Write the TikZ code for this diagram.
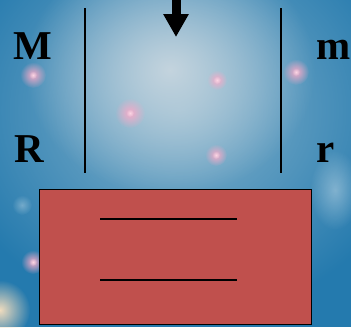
\documentclass[tikz,border=0pt]{standalone}
\usepackage{fontspec}
\setmainfont{Liberation Serif}
\usetikzlibrary{arrows.meta,fadings}

\definecolor{bgblue}{RGB}{36,122,174}
\definecolor{bgmid}{RGB}{135,180,205}
\definecolor{bglight}{RGB}{196,212,222}
\definecolor{spotpink}{RGB}{245,170,200}
\definecolor{warmglow}{RGB}{240,220,190}
\definecolor{boxred}{RGB}{192,80,77}

\tikzfading[name=softglow, inner color=transparent!0, outer color=transparent!100]

\tikzset{
  letter/.style={inner sep=0pt, anchor=base west, font=\fontsize{41}{41}\selectfont\bfseries},
  wall/.style={line width=2pt},
  spot/.style={fill=spotpink, path fading=softglow},
  fall/.style={line width=9pt, -{Triangle[width=24pt,length=23pt]}},
}

\begin{document}
\begin{tikzpicture}[x=1pt,y=-1pt]
\useasboundingbox (0,0) rectangle (351,327);
% background
\fill[bgblue] (0,0) rectangle (351,327);
\fill[bgmid, path fading=softglow] (180,110) ellipse (240 and 210);
\fill[bglight, path fading=softglow] (170,70) ellipse (145 and 125);
\fill[warmglow, path fading=softglow] (0,310) circle (30);
\fill[white, opacity=.35, path fading=softglow] (335,190) ellipse (25 and 40);
\fill[white, opacity=.3, path fading=softglow] (22,205) circle (10);
% bokeh spots
\foreach \px/\py/\pr in {33/75/13, 130/113/15, 217/80/10, 216/155/11, 296/72/13, 33/262/12}
  \fill[spot] (\px,\py) circle (\pr);
\foreach \px/\py in {33/75, 130/113, 217/80, 216/155, 296/72, 33/262}
  \fill[white, opacity=.5, path fading=softglow] (\px,\py) circle (4);

% labels
\node[letter] (bigM) at (13,59) {M};
\node[letter] (bigR) at (14,162) {R};
\node[letter] (smallm) at (316,59) {m};
\node[letter] (smallr) at (316,162) {r};

% walls
\draw[wall] (85,8) -- (85,173);
\draw[wall] (281,8) -- (281,173);

% arrow
\coordinate (arrtop) at (176,0);
\coordinate (arrtip) at (176,37);
\draw[fall] (arrtop) -- (arrtip);

% box
\node[draw, line width=1.6pt, fill=boxred, minimum width=272pt, minimum height=135pt,
  inner sep=0pt] (block) at (175.5,257) {};
\draw[line width=1.8pt] (100,219) -- (237,219);
\draw[line width=1.8pt] (100,280) -- (237,280);
\end{tikzpicture}
\end{document}
